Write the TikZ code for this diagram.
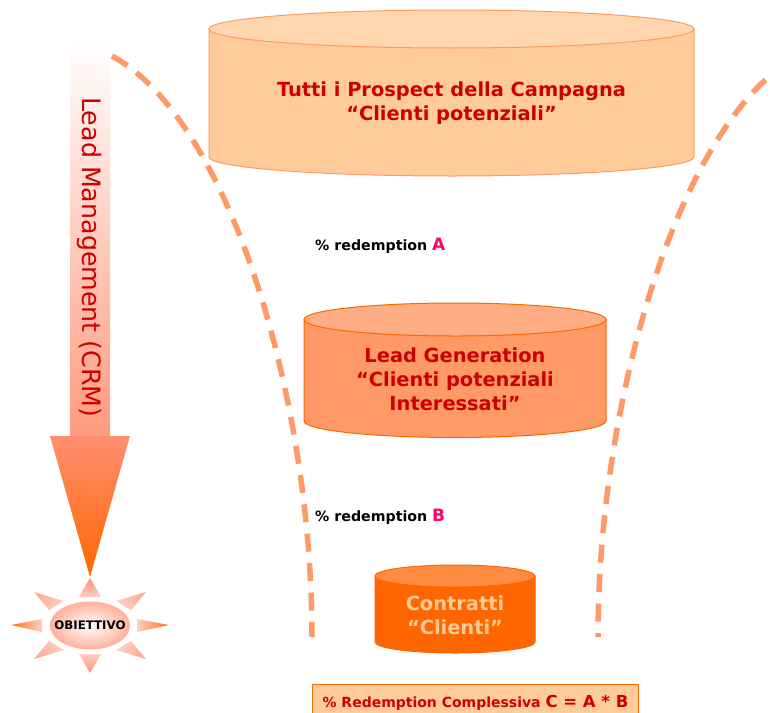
\documentclass[tikz,border=0pt]{standalone}
\usepackage{fontspec}
\setmainfont{DejaVu Sans}
\usetikzlibrary{calc}

\definecolor{titlered}{HTML}{CC0000}
\definecolor{pinkred}{HTML}{FF0066}
\definecolor{deeporange}{HTML}{FF6600}
\definecolor{midorange}{HTML}{FF9966}
\definecolor{paleorange}{HTML}{FFCC99}
\definecolor{coral}{HTML}{FF8F70}
\definecolor{palecoral}{HTML}{FFD0C5}

\tikzset{
  drumtext/.style={font=\bfseries\fontsize{19.4}{24}\selectfont, align=center, text=titlered},
  redemption/.style={font=\bfseries\fontsize{14.2}{16}\selectfont, text=black, anchor=base west, inner sep=0pt},
  funnel/.style={draw=midorange, line width=5.5pt, dash pattern=on 18pt off 11.5pt},
  ray/.style={shade, top color=#1, bottom color=palecoral},
}

\begin{document}
\begin{tikzpicture}[x=1pt, y=-1pt]
    \useasboundingbox (0,0) rectangle (770,712);

    % Cilindri
    \foreach \cx/\rx/\yt/\yb/\ry/\sidecol/\topcol/\linecol in {
        451.5/242.5/29/157/19/paleorange/paleorange!80!white/midorange,
        455/151/319.5/421/16.5/midorange/midorange!80!white/deeporange,
        455/80/576/642/11/deeporange/deeporange!75!white/deeporange} {
        \draw[draw=\linecol, line width=1pt, fill=\sidecol] (\cx-\rx,\yt) -- (\cx-\rx,\yb)
            arc[start angle=180, end angle=360, x radius=\rx pt, y radius=\ry pt] -- (\cx+\rx,\yt) -- cycle;
        \draw[draw=\linecol, line width=1pt, fill=\topcol] (\cx,\yt) ellipse[x radius=\rx pt, y radius=\ry pt];
    }

    % Imbuto
    \begin{scope}
        \clip (0,0) rectangle (770,712);
        \draw[funnel] (112,56) .. controls (230,120) and (312,400) .. (312,637);
        \draw[funnel, dash phase=18.5pt] (798,56) .. controls (680,120) and (598,400) .. (598,637);
    \end{scope}

    % Testi dei cilindri
    \node[drumtext] (prospect) at (451.5,103) {Tutti i Prospect della Campagna\\``Clienti potenziali''};
    \node[drumtext] (lead) at (455,379) {Lead Generation\\``Clienti potenziali\\Interessati''};
    \node[drumtext, text=paleorange] (contratti) at (455,615) {Contratti\\``Clienti''};

    \node[redemption] (redA) at (315,250) {\% redemption \textcolor{pinkred}{\fontsize{17}{17}\selectfont A}};
    \node[redemption] (redB) at (315,521) {\% redemption \textcolor{pinkred}{\fontsize{17}{17}\selectfont B}};

    % Riquadro finale
    \node[draw=deeporange, line width=1pt, fill=paleorange, minimum width=326pt, minimum height=36pt, inner sep=0pt,
          anchor=north west, font=\bfseries\fontsize{14}{16}\selectfont, text=titlered] (totale) at (312,684)
          {\% Redemption Complessiva {\fontsize{16.5}{16}\selectfont C = A * B}};

    % Freccia
    \shade[top color=white, bottom color=coral!90!white] (70,40) rectangle (110,436);
    \shade[top color=coral, bottom color=deeporange] (50,436) -- (130,436) -- (90,577) -- cycle;
    \node[rotate=-90, text=titlered, font=\fontsize{25.3}{27}\selectfont] (crm) at (89,257.5) {Lead Management (CRM)};

    % Obiettivo
    \foreach \tipx/\tipy/\ax/\ay/\bx/\by/\ang/\tipcol in {
        90/578/79/597/101/597/0/coral,
        90/673/79/654/101/654/180/coral,
        11/625/42/619/42/632/90/deeporange!80!coral,
        169/625/137/619/137/632/270/deeporange!80!coral,
        34/592/64/601/49/610/55/coral!75!white,
        146/592/116/601/131/610/305/coral!75!white,
        34/659/64/650/49/641/125/coral!75!white,
        146/659/116/650/131/641/235/coral!75!white} {
        \path[ray=\tipcol, shading angle=\ang] (\tipx,\tipy) -- (\ax,\ay) -- (\bx,\by) -- cycle;
    }
    \shade[inner color=white, outer color=coral!70!white] (90,625.5) ellipse[x radius=40pt, y radius=24pt];
    \node[font=\bfseries\fontsize{11.8}{13}\selectfont, inner sep=0pt] (obiettivo) at (90,625.5) {OBIETTIVO};
\end{tikzpicture}
\end{document}
